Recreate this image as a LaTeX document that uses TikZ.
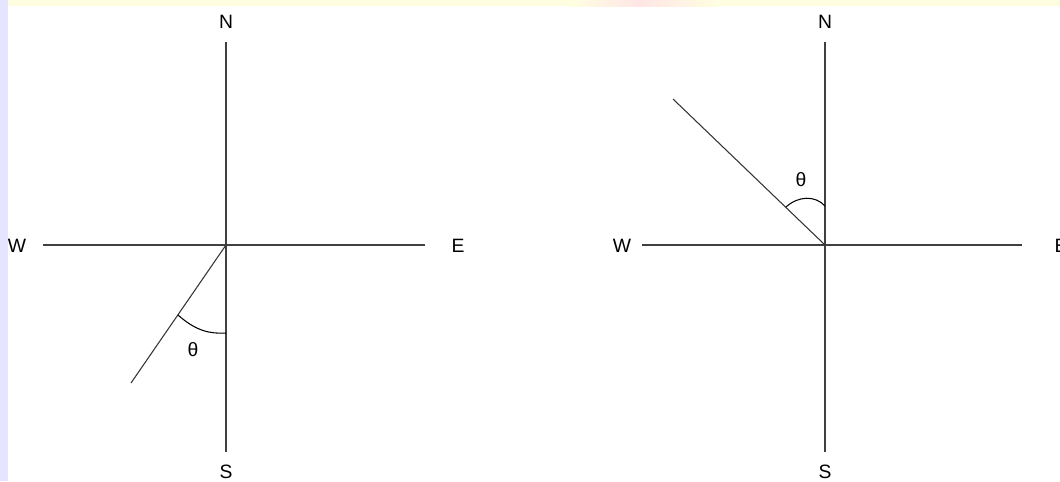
\documentclass[tikz,border=0pt]{standalone}
\usepackage{fontspec}
\setmainfont{Liberation Sans}
\usetikzlibrary{positioning}

\begin{document}
\begin{tikzpicture}[x=0.02cm,y=-0.02cm,
  axis/.style={draw=black!75,line width=0.6pt},
  ray/.style={draw=black!80,line width=0.6pt},
  angarc/.style={draw=black,line width=0.6pt},
  dirlabel/.style={font=\fontsize{11}{13}\selectfont,inner sep=1pt}]

\useasboundingbox (0,0) rectangle (1060,481);

% =====================
% Sfondo della slide
% =====================
\fill[yellow!12] (0,0) rectangle (1060,6);
\shade[left color=yellow!12,right color=red!10] (570,0) rectangle (640,6);
\shade[left color=red!10,right color=yellow!12] (640,0) rectangle (720,6);
\fill[blue!10] (0,0) rectangle (8,481);

% =====================
% Livelli
% =====================
\def\MidY{245}
\def\TopY{42}
\def\BotY{452}

% =====================
% Bussola sinistra
% =====================
\coordinate (oL) at (226,\MidY);
\node[dirlabel] (nL) at (226,22) {N};
\node[dirlabel] (sL) at (226,472) {S};
\node[dirlabel] (wL) at (17,246) {W};
\node[dirlabel] (eL) at (458,246) {E};

\coordinate (nLend) at (226,\TopY);
\coordinate (sLend) at (226,\BotY);
\coordinate (wLend) at (43,\MidY);
\coordinate (eLend) at (425,\MidY);

\draw[axis] (nLend) -- (sLend);
\draw[axis] (wLend) -- (eLend);

\coordinate (tipL) at (131,383);
\draw[ray] (oL) -- (tipL);

\draw[angarc] (178,315) .. controls (196,331) and (210,334) .. (226,333);
\node[dirlabel] (thL) at (193,350) {θ};

% =====================
% Bussola destra
% =====================
\coordinate (oR) at (825,\MidY);
\node[dirlabel] (nR) at (825,22) {N};
\node[dirlabel] (sR) at (825,472) {S};
\node[dirlabel] (wR) at (622,246) {W};
\node[dirlabel] (eR) at (1061,246) {E};

\coordinate (nRend) at (825,\TopY);
\coordinate (sRend) at (825,\BotY);
\coordinate (wRend) at (642,\MidY);
\coordinate (eRend) at (1022,\MidY);

\draw[axis] (nRend) -- (sRend);
\draw[axis] (wRend) -- (eRend);

\coordinate (tipR) at (673,99);
\draw[ray] (oR) -- (tipR);

\draw[angarc] (786,207) .. controls (798,196) and (815,195) .. (825,206);
\node[dirlabel] (thR) at (801,180) {θ};

\end{tikzpicture}
\end{document}
